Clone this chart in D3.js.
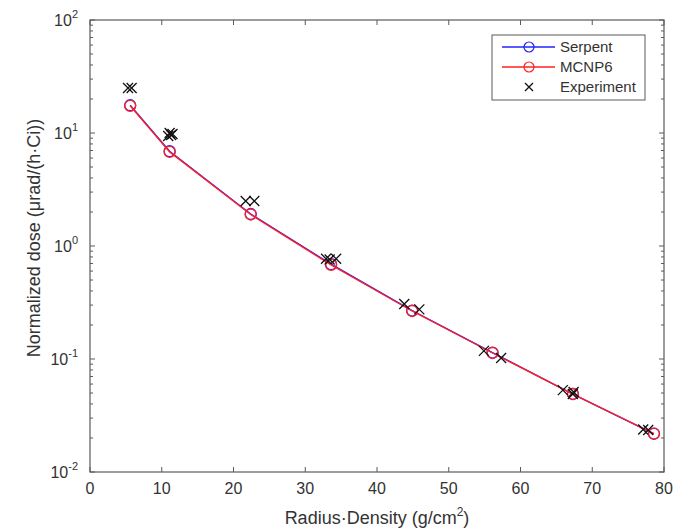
<!DOCTYPE html>
<html>
<head>
<meta charset="utf-8">
<script src="https://cdn.jsdelivr.net/npm/d3@7"></script>
<style>
  body { margin: 0; background: #fff; }
  text { font-family: "Liberation Sans", Arial, sans-serif; fill: #333; }
</style>
</head>
<body>
<svg id="chart" width="678" height="529"></svg>
<script>
// radius*density values (g/cm^2)
var rd = [5.6, 11.1, 22.4, 33.6, 44.9, 56.1, 67.3, 78.6];
var serpent = [17.6, 6.9, 1.92, 0.69, 0.268, 0.114, 0.049, 0.0218];
var mcnp6 = [17.4, 6.8, 1.90, 0.68, 0.266, 0.113, 0.049, 0.0219];

var expX = [5.3, 5.8, 10.9, 11.1, 11.3, 11.5, 21.7, 22.9, 32.9, 33.4, 34.3, 43.8, 45.9, 54.9, 57.3, 65.9, 67.3, 67.4, 77.1, 77.8];
var expY = [25, 25, 9.4, 10.0, 9.6, 9.8, 2.5, 2.5, 0.77, 0.76, 0.77, 0.307, 0.275, 0.118, 0.102, 0.053, 0.049, 0.051, 0.0238, 0.0235];

var xTicks = [0, 10, 20, 30, 40, 50, 60, 70, 80];
var yExps = [-2, -1, 0, 1, 2];

(function() {
  var svg = d3.select('#chart');
  var pLeft = 90, pRight = 664, pTop = 20, pBottom = 472;
  var axisColor = '#5a5a5a';

  var x = d3.scaleLinear().domain([0, 80]).range([pLeft, pRight]);
  var y = d3.scaleLog().domain([0.01, 100]).range([pBottom, pTop]);

  // minor log ticks on left and right
  var minor = [];
  yExps.slice(0, -1).forEach(function(e) {
    for (var k = 2; k <= 9; k++) minor.push(k * Math.pow(10, e));
  });

  var g = svg.append('g');

  // box
  g.append('rect')
    .attr('x', pLeft).attr('y', pTop)
    .attr('width', pRight - pLeft).attr('height', pBottom - pTop)
    .attr('fill', 'none').attr('stroke', axisColor).attr('stroke-width', 1.2);

  // x ticks (inward, top and bottom)
  xTicks.forEach(function(t) {
    g.append('line').attr('x1', x(t)).attr('x2', x(t)).attr('y1', pBottom).attr('y2', pBottom - 5)
      .attr('stroke', axisColor);
    g.append('line').attr('x1', x(t)).attr('x2', x(t)).attr('y1', pTop).attr('y2', pTop + 5)
      .attr('stroke', axisColor);
    g.append('text').attr('x', x(t)).attr('y', pBottom + 22)
      .attr('text-anchor', 'middle').attr('font-size', 16).text(t);
  });

  // y major ticks + labels
  yExps.forEach(function(e) {
    var v = Math.pow(10, e);
    g.append('line').attr('x1', pLeft).attr('x2', pLeft + 5).attr('y1', y(v)).attr('y2', y(v))
      .attr('stroke', axisColor);
    g.append('line').attr('x1', pRight).attr('x2', pRight - 5).attr('y1', y(v)).attr('y2', y(v))
      .attr('stroke', axisColor);
    var lab = g.append('text').attr('x', pLeft - 12).attr('y', y(v) + 6)
      .attr('text-anchor', 'end').attr('font-size', 16);
    lab.append('tspan').text('10');
    lab.append('tspan').attr('dy', -8).attr('font-size', 11).text(e);
  });

  minor.forEach(function(v) {
    g.append('line').attr('x1', pLeft).attr('x2', pLeft + 3).attr('y1', y(v)).attr('y2', y(v))
      .attr('stroke', axisColor);
    g.append('line').attr('x1', pRight).attr('x2', pRight - 3).attr('y1', y(v)).attr('y2', y(v))
      .attr('stroke', axisColor);
  });

  // axis labels
  var xl = g.append('text').attr('x', (pLeft + pRight) / 2).attr('y', 524)
    .attr('text-anchor', 'middle').attr('font-size', 18);
  xl.append('tspan').text('Radius\u00b7Density (g/cm');
  xl.append('tspan').attr('dy', -8).attr('font-size', 12).text('2');
  xl.append('tspan').attr('dy', 8).text(')');

  g.append('text')
    .attr('transform', 'translate(40,' + 238 + ') rotate(-90)')
    .attr('text-anchor', 'middle').attr('font-size', 18)
    .text('Normalized dose (\u03bcrad/(h\u00b7Ci))');

  // series
  var line = d3.line()
    .x(function(d) { return x(d[0]); })
    .y(function(d) { return y(d[1]); });

  function drawSeries(vals, color) {
    var pts = rd.map(function(r, i) { return [r, vals[i]]; });
    g.append('path').datum(pts).attr('d', line)
      .attr('fill', 'none').attr('stroke', color).attr('stroke-width', 1.4);
    g.selectAll(null).data(pts).enter().append('circle')
      .attr('cx', function(d) { return x(d[0]); })
      .attr('cy', function(d) { return y(d[1]); })
      .attr('r', 5.5).attr('fill', 'none').attr('stroke', color).attr('stroke-width', 1.3);
  }
  drawSeries(serpent, '#2222ff');
  drawSeries(mcnp6, '#ff2020');

  function cross(sel, cx, cy, s) {
    sel.append('path')
      .attr('d', 'M' + (cx - s) + ',' + (cy - s) + 'L' + (cx + s) + ',' + (cy + s) +
        'M' + (cx - s) + ',' + (cy + s) + 'L' + (cx + s) + ',' + (cy - s))
      .attr('stroke', '#111').attr('stroke-width', 1.3).attr('fill', 'none');
  }
  expX.forEach(function(v, i) {
    cross(g, x(v), y(expY[i]), 5);
  });

  // legend
  var lg = g.append('g');
  var lx = 492, ly = 35;
  lg.append('rect').attr('x', lx).attr('y', ly).attr('width', 153).attr('height', 65)
    .attr('fill', '#fff').attr('stroke', axisColor);
  var items = [['Serpent', '#2222ff'], ['MCNP6', '#ff2020'], ['Experiment', null]];
  items.forEach(function(it, i) {
    var yy = ly + 12 + i * 20;
    if (it[1]) {
      lg.append('line').attr('x1', lx + 10).attr('x2', lx + 63).attr('y1', yy).attr('y2', yy)
        .attr('stroke', it[1]).attr('stroke-width', 1.3);
      lg.append('circle').attr('cx', lx + 37).attr('cy', yy).attr('r', 5)
        .attr('fill', 'none').attr('stroke', it[1]).attr('stroke-width', 1.2);
    } else {
      cross(lg, lx + 37, yy, 4);
    }
    lg.append('text').attr('x', lx + 68).attr('y', yy + 5).attr('font-size', 15).text(it[0]);
  });
})();
</script>
</body>
</html>
